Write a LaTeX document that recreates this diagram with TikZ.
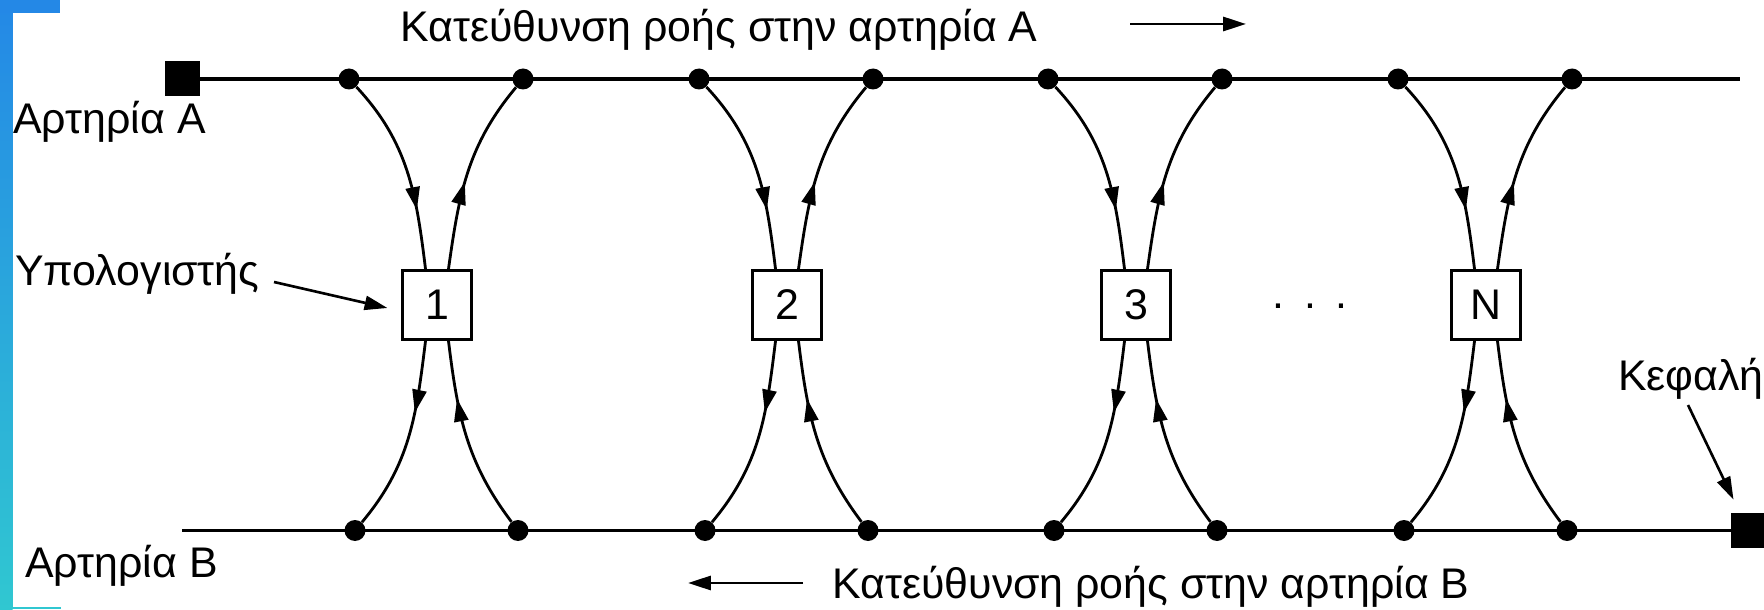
\documentclass[tikz,border=0pt]{standalone}
\usepackage{fontspec}
\setmainfont{Liberation Sans}
\usepackage{tikz}
\usetikzlibrary{arrows.meta}
\usetikzlibrary{decorations.markings}
\definecolor{barblue}{RGB}{36,136,230}
\definecolor{barcyan}{RGB}{48,199,209}
\tikzset{
	midarrow/.style={postaction={decorate,decoration={markings,
		mark=at position #1 with {\arrow{Triangle[length=13pt,width=8pt]}}}}},
	flow/.style={line width=1.5pt,-{Triangle[length=13pt,width=8pt]}}
}

\begin{document}
\begin{tikzpicture}[x=0.02cm,y=0.02cm,font=\fontsize{24.4}{29}\selectfont]
	\useasboundingbox (0,0) rectangle (1764,609);
	\fill[top color=barblue,bottom color=barcyan] (0,0) rectangle (12.6,609);
	\fill[barblue] (0,596) rectangle (60,609);
	\fill[barcyan] (0,0) rectangle (61,2);

	\begin{scope}[every node/.style={rectangle,fill=black,minimum size=0.7cm,inner sep=0pt}]
		\node (headA) at (182.5,530) {};
		\node (headB) at (1748.5,78.5) {};
	\end{scope}
	\coordinate (endA) at (1740,530);
	\coordinate (endB) at (182,78.5);
	\draw[line width=1.8pt] (headA) -- (endA);
	\draw[line width=1.8pt] (endB) -- (headB);

	\begin{scope}[every node/.style={draw,fill=white,line width=1.5pt,minimum width=1.37cm,minimum height=1.39cm,inner sep=0pt}]
		\foreach \x/\n [count=\i] in {437/1,787/2,1136/3,1486/N}
			\node (h\i) at (\x,304) {\n};
	\end{scope}

	\begin{scope}[every node/.style={circle,fill=black,minimum size=0.42cm,inner sep=0pt}]
		\foreach \x [count=\i] in {437,787,1136,1486} {
			\node (ai\i) at (\x-88,530) {};
			\node (ao\i) at (\x+86,530) {};
			\node (bo\i) at (\x-82,78.5) {};
			\node (bi\i) at (\x+81,78.5) {};
		}
	\end{scope}

	\begin{scope}[every edge/.style={draw=black,line width=1.6pt}]
		\foreach \i in {1,...,4} {
			\path (ai\i) edge[midarrow=0.7,out=-47,in=97] ([xshift=-0.23cm]h\i.north);
			\path ([xshift=0.23cm]h\i.north) edge[midarrow=0.45,out=82,in=-130] (ao\i);
			\path ([xshift=-0.23cm]h\i.south) edge[midarrow=0.37,out=-97,in=50] (bo\i);
			\path (bi\i) edge[midarrow=0.7,out=127,in=-83] ([xshift=0.23cm]h\i.south);
		}
	\end{scope}

	\begin{scope}[every node/.style={inner sep=0pt,anchor=base west}]
		\node (arteryA) at (13,475) {Αρτηρία A};
		\node (arteryB) at (25,32) {Αρτηρία B};
		\node (flowA) at (400,567) {Κατεύθυνση ροής στην αρτηρία A};
		\node (flowB) at (832,11) {Κατεύθυνση ροής στην αρτηρία B};
		\node (host) at (15,323) {Υπολογιστής};
		\node[anchor=base east] (head) at (1764,219) {Κεφαλή};
		\node[anchor=center] (dots) at (1310,303) {.\hspace{0.4cm}.\hspace{0.4cm}.};
	\end{scope}

	\coordinate (fa1) at (1130,585);
	\coordinate (fa2) at (1246,585);
	\coordinate (fb1) at (803,26);
	\coordinate (fb2) at (688,26);
	\coordinate (hostarrow) at (274,327);
	\coordinate (headarrow) at (1688,204);
	\draw[flow] (fa1) -- (fa2);
	\draw[flow] (fb1) -- (fb2);
	\draw[flow] (hostarrow) -- ([xshift=-0.28cm,yshift=-0.06cm]h1.west);
	\draw[flow] (headarrow) -- ([xshift=-0.3cm,yshift=0.26cm]headB.north);
\end{tikzpicture}
\end{document}
